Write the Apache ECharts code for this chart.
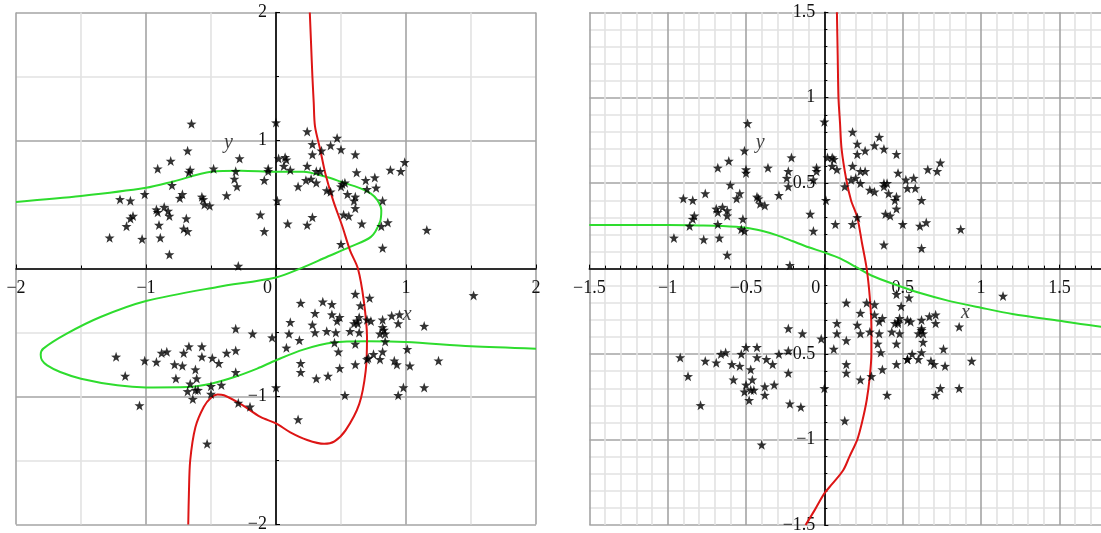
<!DOCTYPE html>
<html><head><meta charset="utf-8">
<script src="https://cdn.jsdelivr.net/npm/echarts@6/dist/echarts.min.js"></script>
<style>html,body{margin:0;padding:0;background:#fff}#c{width:1101px;height:533px}</style>
</head><body><div id="c"></div>
<script>
// ---------- left panel data ----------
const leftX = [-0.65,-0.68,-0.81,-0.91,-0.66,-0.67,-0.48,-0.28,-0.31,-0.32,-0.30,-0.38,-0.80,-1.01,-0.72,-0.74,-0.57,-0.56,-0.55,-0.51,-1.20,-1.12,-0.92,-0.91,-0.86,-0.83,-0.82,-1.10,-1.12,-1.15,-0.90,-0.69,-0.71,-0.68,-1.28,-1.03,-0.89,-0.82,-0.29,
 0.00,0.24,0.28,0.28,0.35,0.42,0.47,0.50,0.61,0.02,0.07,0.08,0.06,0.11,-0.06,-0.06,-0.09,0.24,0.31,0.34,0.23,0.27,0.31,0.17,0.39,0.42,0.50,0.51,0.53,0.62,0.55,0.69,0.70,0.76,0.77,0.88,0.96,0.99,0.61,0.60,0.61,0.82,0.01,0.52,0.56,-0.12,-0.09,0.09,0.24,0.28,0.66,0.81,0.86,0.50,0.82,1.16,
 -0.31,-0.18,-0.03,-1.23,-1.01,-0.92,-0.88,-0.84,-0.71,-0.67,-0.57,-0.57,-0.49,-0.44,-0.38,-0.31,-0.78,-0.72,-0.62,-1.16,-0.77,-0.61,-0.66,-0.31,-0.50,-0.42,-0.68,-0.62,-0.60,-0.64,-0.50,-1.05,-0.29,-0.20,-0.53,
 0.61,0.72,1.52,0.19,0.36,0.43,0.65,0.30,0.43,0.49,0.47,0.64,0.62,0.60,0.63,0.70,0.73,0.11,0.28,0.82,0.89,0.95,0.94,1.14,0.82,0.83,0.80,0.84,0.84,0.10,0.30,0.39,0.46,0.57,0.64,0.18,0.08,0.45,0.61,0.48,1.01,0.75,0.82,0.71,0.70,0.80,0.91,0.93,1.03,1.25,0.19,0.19,0.61,0.49,0.40,0.31,0.00,0.53,0.98,0.94,1.14,0.17];
const leftY = [1.13,0.92,0.84,0.78,0.77,0.75,0.78,0.86,0.76,0.70,0.64,0.57,0.65,0.58,0.58,0.55,0.56,0.54,0.50,0.49,0.54,0.53,0.46,0.44,0.48,0.45,0.41,0.41,0.39,0.33,0.34,0.39,0.31,0.29,0.24,0.23,0.24,0.11,0.02,
 1.14,1.07,0.97,0.89,0.92,0.96,1.02,0.93,0.89,0.86,0.87,0.85,0.80,0.77,0.78,0.76,0.69,0.80,0.76,0.76,0.69,0.70,0.67,0.64,0.61,0.60,0.64,0.66,0.67,0.75,0.58,0.69,0.62,0.71,0.63,0.77,0.76,0.83,0.56,0.53,0.47,0.53,0.53,0.42,0.41,0.42,0.29,0.35,0.34,0.40,0.35,0.33,0.36,0.19,0.16,0.30,
 -0.47,-0.51,-0.54,-0.69,-0.72,-0.73,-0.66,-0.65,-0.66,-0.61,-0.61,-0.69,-0.70,-0.74,-0.66,-0.64,-0.75,-0.76,-0.79,-0.84,-0.86,-0.86,-0.90,-0.81,-0.92,-0.91,-0.96,-0.95,-0.95,-1.02,-0.98,-1.07,-1.05,-1.08,-1.37,
 -0.20,-0.23,-0.21,-0.27,-0.26,-0.28,-0.29,-0.35,-0.36,-0.38,-0.41,-0.38,-0.41,-0.43,-0.43,-0.40,-0.41,-0.42,-0.44,-0.40,-0.37,-0.36,-0.43,-0.45,-0.46,-0.48,-0.51,-0.51,-0.57,-0.51,-0.50,-0.49,-0.50,-0.49,-0.50,-0.56,-0.62,-0.58,-0.59,-0.65,-0.63,-0.67,-0.65,-0.70,-0.71,-0.71,-0.72,-0.75,-0.76,-0.72,-0.74,-0.81,-0.75,-0.78,-0.84,-0.86,-0.93,-0.99,-0.93,-0.99,-0.93,-1.18];
const leftGreenX = [-2,-1.5,-1.0,-0.79,-0.5,-0.27,0,0.21,0.37,0.5,0.65,0.73,0.78,0.81,0.80,0.73,0.57,0.39,0.2,0,-0.45,-1.0,-1.35,-1.61,-1.79,-1.81,-1.80,-1.76,-1.66,-1.5,-1.22,-1.0,-0.68,-0.5,-0.32,-0.145,0,0.21,0.44,0.70,1.0,1.5,2.0];
const leftGreenY = [0.52,0.566,0.63,0.68,0.756,0.764,0.756,0.756,0.72,0.678,0.626,0.585,0.534,0.456,0.365,0.247,0.169,0.09,0.005,-0.07,-0.144,-0.254,-0.379,-0.509,-0.626,-0.673,-0.717,-0.757,-0.809,-0.861,-0.913,-0.929,-0.926,-0.90,-0.848,-0.782,-0.717,-0.634,-0.579,-0.569,-0.574,-0.608,-0.626];
const leftRedX = [0.26,0.27,0.28,0.29,0.30,0.34,0.38,0.44,0.51,0.57,0.63,0.675,0.70,0.69,0.64,0.535,0.45,0.37,0.24,0.11,0,-0.12,-0.27,-0.40,-0.45,-0.50,-0.555,-0.62,-0.66,-0.67,-0.675];
const leftRedY = [2.0,1.75,1.5,1.3,1.11,0.93,0.74,0.53,0.33,0.14,0,-0.25,-0.535,-0.80,-1.06,-1.265,-1.35,-1.37,-1.34,-1.28,-1.21,-1.16,-1.06,-0.99,-0.985,-1.01,-1.08,-1.24,-1.5,-1.76,-2.0];
const leftTicks = [-2,-1,0,1,2];

// ---------- right panel data ----------
const rightX = [-0.49,-0.51,-0.61,-0.68,-0.50,-0.50,-0.36,-0.21,-0.23,-0.24,-0.23,-0.29,-0.60,-0.76,-0.54,-0.56,-0.43,-0.42,-0.41,-0.38,-0.90,-0.84,-0.69,-0.68,-0.65,-0.62,-0.62,-0.83,-0.84,-0.86,-0.68,-0.52,-0.53,-0.51,-0.96,-0.77,-0.67,-0.62,-0.22,
 0.00,0.18,0.21,0.21,0.26,0.32,0.35,0.38,0.46,0.02,0.05,0.06,0.05,0.08,-0.05,-0.05,-0.07,0.18,0.23,0.26,0.17,0.20,0.23,0.13,0.29,0.32,0.38,0.38,0.40,0.47,0.41,0.52,0.53,0.57,0.58,0.66,0.72,0.74,0.46,0.45,0.46,0.62,0.01,0.39,0.42,-0.09,-0.07,0.07,0.18,0.21,0.50,0.61,0.65,0.38,0.62,0.87,
 -0.23,-0.14,-0.02,-0.92,-0.76,-0.69,-0.66,-0.63,-0.53,-0.50,-0.43,-0.43,-0.37,-0.33,-0.29,-0.23,-0.59,-0.54,-0.47,-0.87,-0.58,-0.46,-0.50,-0.23,-0.38,-0.32,-0.51,-0.47,-0.45,-0.48,-0.38,-0.79,-0.22,-0.15,-0.40,
 0.46,0.54,1.14,0.14,0.27,0.32,0.49,0.23,0.32,0.37,0.35,0.48,0.47,0.45,0.47,0.53,0.55,0.08,0.21,0.62,0.67,0.71,0.71,0.86,0.62,0.62,0.60,0.63,0.63,0.08,0.23,0.29,0.35,0.43,0.48,0.14,0.06,0.34,0.46,0.36,0.76,0.56,0.62,0.53,0.53,0.60,0.68,0.70,0.77,0.94,0.14,0.14,0.46,0.37,0.30,0.23,0.00,0.40,0.74,0.71,0.86,0.13];
const rightY = [0.85,0.69,0.63,0.59,0.58,0.56,0.59,0.65,0.57,0.53,0.48,0.43,0.49,0.44,0.44,0.41,0.42,0.41,0.38,0.37,0.41,0.40,0.35,0.33,0.36,0.34,0.31,0.31,0.29,0.25,0.26,0.29,0.23,0.22,0.18,0.17,0.18,0.08,0.02,
 0.86,0.80,0.73,0.67,0.69,0.72,0.77,0.70,0.67,0.65,0.65,0.64,0.60,0.58,0.59,0.57,0.52,0.60,0.57,0.57,0.52,0.53,0.50,0.48,0.46,0.45,0.48,0.50,0.50,0.56,0.44,0.52,0.47,0.53,0.47,0.58,0.57,0.62,0.42,0.40,0.35,0.40,0.40,0.32,0.31,0.32,0.22,0.26,0.26,0.30,0.26,0.25,0.27,0.14,0.12,0.23,
 -0.35,-0.38,-0.41,-0.52,-0.54,-0.55,-0.50,-0.49,-0.50,-0.46,-0.46,-0.52,-0.53,-0.56,-0.50,-0.48,-0.56,-0.57,-0.59,-0.63,-0.65,-0.65,-0.68,-0.61,-0.69,-0.68,-0.72,-0.71,-0.71,-0.77,-0.74,-0.80,-0.79,-0.81,-1.03,
 -0.15,-0.17,-0.16,-0.20,-0.20,-0.21,-0.22,-0.26,-0.27,-0.29,-0.31,-0.29,-0.31,-0.32,-0.32,-0.30,-0.31,-0.32,-0.33,-0.30,-0.28,-0.27,-0.32,-0.34,-0.35,-0.36,-0.38,-0.38,-0.43,-0.38,-0.38,-0.37,-0.38,-0.37,-0.38,-0.42,-0.47,-0.44,-0.44,-0.49,-0.47,-0.50,-0.49,-0.53,-0.53,-0.53,-0.54,-0.56,-0.57,-0.54,-0.56,-0.61,-0.56,-0.59,-0.63,-0.65,-0.70,-0.74,-0.70,-0.74,-0.70,-0.89];
const rightGreenX = [-1.5,-1.2,-1.0,-0.8,-0.65,-0.5,-0.4,-0.3,-0.2,-0.1,0,0.1,0.2,0.3,0.46,0.6,0.8,1.0,1.2,1.5,1.77,2.0];
const rightGreenY = [0.255,0.255,0.255,0.253,0.25,0.24,0.222,0.195,0.16,0.125,0.095,0.06,0.01,-0.04,-0.096,-0.14,-0.19,-0.229,-0.265,-0.305,-0.34,-0.36];
const rightRedX = [0.08,0.085,0.09,0.10,0.11,0.14,0.17,0.21,0.24,0.27,0.29,0.30,0.30,0.29,0.27,0.24,0.21,0.16,0.12,0.05,0,-0.06,-0.12];
const rightRedY = [1.5,1.25,1.0,0.85,0.7,0.52,0.4,0.3,0.15,0.0,-0.17,-0.34,-0.5,-0.63,-0.77,-0.9,-1.0,-1.1,-1.18,-1.26,-1.315,-1.41,-1.5];
const rightTicksX = [-1.5,-1,-0.5,0,0.5,1,1.5,2];
const rightTicksY = [-1.5,-1,-0.5,0,0.5,1,1.5];

// ---------- build ----------
const zip = (xs, ys) => xs.map((x, i) => [x, ys[i]]);
const STAR = 'path://M0,-10 L2.35,-3.24 L9.51,-3.09 L3.8,1.24 L5.88,8.09 L0,4 L-5.88,8.09 L-3.8,1.24 L-9.51,-3.09 L-2.35,-3.24 Z';
const FONT = 'Liberation Serif';
const fmt = v => (Math.abs(v) < 1e-9 ? '0' : String(+v.toFixed(2))).replace('-', '\u2212');
const GREEN = '#2edc2e', RED = '#dd1515';

const grids = [
  { left: 16, top: 12.5, width: 520, height: 512 },
  { left: 589.3, top: 12.3, width: 548.5, height: 512.7 }
];

// axis drawn through the origin: offset from the grid edge to the other axis's zero
function axisCommon(gi, ticks, otherTicks, minorSplit, isX) {
  const g = grids[gi];
  const lo = ticks[0], hi = ticks[ticks.length - 1];
  const olo = otherTicks[0], ohi = otherTicks[otherTicks.length - 1];
  const offset = isX ? -(g.height * (0 - olo) / (ohi - olo)) : -(g.width * (0 - olo) / (ohi - olo));
  return {
    gridIndex: gi, type: 'value', min: lo, max: hi, interval: ticks[1] - ticks[0],
    position: isX ? 'bottom' : 'left', offset,
    axisLine: { onZero: false, lineStyle: { color: '#000', width: 1.6 } },
    axisTick: { show: true, inside: true, length: 4, lineStyle: { color: '#000', width: 1 } },
    minorTick: { show: true, splitNumber: minorSplit, length: 3, lineStyle: { color: '#000', width: 1 } },
    splitLine: { show: true, lineStyle: { color: '#a4a4a4', width: 1.6 } },
    minorSplitLine: { show: true, lineStyle: { color: '#e2e2e2', width: 1.6 } },
    axisLabel: {
      show: true, showMinLabel: true, showMaxLabel: true, hideOverlap: false,
      fontFamily: FONT, fontSize: 18, color: '#111', margin: isX ? 11 : 9,
      formatter: isX ? (v => Math.abs(v) < 1e-9 ? '{z|0}' : fmt(v)) : (v => Math.abs(v) < 1e-9 ? '' : fmt(v)),
      rich: { z: { fontFamily: FONT, fontSize: 18, color: '#111', padding: [0, 17, 0, 0] } }
    }
  };
}

function nameSeries(xi, pos, txt) {
  return {
    type: 'scatter', xAxisIndex: xi, yAxisIndex: xi, silent: true, symbolSize: 1,
    itemStyle: { color: 'rgba(0,0,0,0)' }, z: 5,
    label: { show: true, position: 'inside', formatter: txt, fontFamily: FONT, fontStyle: 'italic', fontSize: 20, color: '#111' },
    data: [pos]
  };
}

const lineS = (xi, data, color) => ({
  type: 'line', xAxisIndex: xi, yAxisIndex: xi, data, showSymbol: false, smooth: 0.3,
  lineStyle: { color, width: 2 }, itemStyle: { color }, silent: true, z: 3
});
const starS = (xi, data) => ({
  type: 'scatter', xAxisIndex: xi, yAxisIndex: xi, data, symbol: STAR, symbolSize: 10,
  itemStyle: { color: '#000' }, silent: true, z: 4
});

const option = {
  backgroundColor: '#fff',
  animation: false,
  grid: grids.map(g => Object.assign({ containLabel: false, outerBoundsMode: 'none' }, g)),
  xAxis: [axisCommon(0, leftTicks, leftTicks, 2, true), axisCommon(1, rightTicksX, rightTicksY, 5, true)],
  yAxis: [axisCommon(0, leftTicks, leftTicks, 2, false), axisCommon(1, rightTicksY, rightTicksX, 5, false)],
  series: [
    starS(0, zip(leftX, leftY)),
    lineS(0, zip(leftGreenX, leftGreenY), GREEN),
    lineS(0, zip(leftRedX, leftRedY), RED),
    nameSeries(0, [1.01, -0.36], 'x'),
    nameSeries(0, [-0.365, 0.98], 'y'),
    starS(1, zip(rightX, rightY)),
    lineS(1, zip(rightGreenX, rightGreenY), GREEN),
    lineS(1, zip(rightRedX, rightRedY), RED),
    nameSeries(1, [0.9, -0.26], 'x'),
    nameSeries(1, [-0.41, 0.735], 'y')
  ]
};
const chart = echarts.init(document.getElementById('c'), null, { renderer: 'canvas' });
chart.setOption(option);
</script></body></html>
